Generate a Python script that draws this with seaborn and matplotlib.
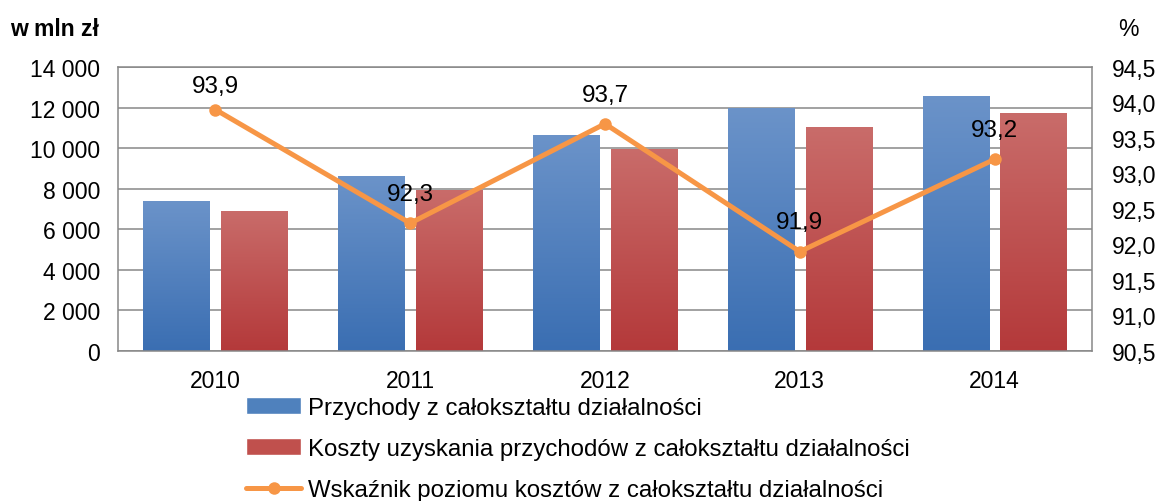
import numpy as np
import pandas as pd
import matplotlib.pyplot as plt
import seaborn as sns
from matplotlib.colors import LinearSegmentedColormap
from matplotlib.patches import Patch
from matplotlib.lines import Line2D
from matplotlib.ticker import FuncFormatter, MultipleLocator, FixedLocator

# dane
lata = ["2010", "2011", "2012", "2013", "2014"]
przychody = [7370, 8610, 10635, 11955, 12565]
koszty = [6925, 7915, 9975, 11030, 11725]
wskaznik = [93.9, 92.3, 93.7, 91.9, 93.2]

seria_przychody = "Przychody z całokształtu działalności"
seria_koszty = "Koszty uzyskania przychodów z całokształtu działalności"
seria_wskaznik = "Wskaźnik poziomu kosztów z całokształtu działalności"

df = pd.DataFrame(
    {
        "Rok": lata + lata,
        "Wartosc": przychody + koszty,
        "Seria": [seria_przychody] * len(lata) + [seria_koszty] * len(lata),
    }
)

sns.set_style("white")
plt.rcParams["font.family"] = ["Liberation Sans", "DejaVu Sans"]
plt.rcParams["text.color"] = "black"
plt.rcParams["xtick.labelcolor"] = "black"
plt.rcParams["ytick.labelcolor"] = "black"

gray = "#878787"
orange = "#f79646"
blue_mid, red_mid = "#4f81bd", "#c0504d"
gradients = [("#6b93c9", "#3a6eb2"), ("#c96c6a", "#b4393a")]
fs = 16.5

fig = plt.figure(figsize=(11.63, 5.02), dpi=100)
ax = fig.add_axes([118 / 1163, 1 - 352 / 502, 974 / 1163, 284 / 502])
ax2 = ax.twinx()

sns.barplot(
    data=df, x="Rok", y="Wartosc", hue="Seria",
    palette=[blue_mid, red_mid], width=0.8, gap=0.15,
    linewidth=0, legend=False, ax=ax,
)

# gradient fill for the bars
for cont, (top, bottom) in zip(ax.containers, gradients):
    cmap = LinearSegmentedColormap.from_list("g", [bottom, top])
    for bar in cont:
        x0, y0 = bar.get_x(), bar.get_y()
        w, h = bar.get_width(), bar.get_height()
        im = ax.imshow(
            np.linspace(0, 1, 256).reshape(-1, 1), cmap=cmap, origin="lower",
            extent=[x0, x0 + w, y0, y0 + h], aspect="auto",
            zorder=bar.get_zorder(),
        )
        im.set_clip_path(bar)
        bar.set_facecolor("none")

ax.set_xlim(-0.5, len(lata) - 0.5)
ax.set_ylim(0, 14000)
ax.yaxis.set_major_locator(MultipleLocator(2000))
ax.yaxis.set_major_formatter(FuncFormatter(lambda v, p: f"{int(v):,}".replace(",", " ")))
ax.set_axisbelow(True)
ax.yaxis.grid(True, color=gray, linewidth=1.1)
ax.xaxis.grid(False)
for s in ax.spines.values():
    s.set_color(gray)
    s.set_linewidth(1.1)
ax.set_xlabel("")
ax.set_ylabel("")
ax.tick_params(axis="y", length=0, pad=13, labelsize=fs)
ax.tick_params(axis="x", which="major", length=0, pad=13, labelsize=fs)
ax.xaxis.set_minor_locator(FixedLocator(np.arange(len(lata) + 1) - 0.5))
ax.tick_params(axis="x", which="minor", direction="in", length=5, color=gray, width=1.1)

# wskaznik na prawej osi
sns.lineplot(
    x=np.arange(len(lata)), y=wskaznik, ax=ax2, color=orange,
    linewidth=3.6, marker="o", markersize=9, markeredgewidth=0,
)
for i, v in enumerate(wskaznik):
    ax2.annotate(
        f"{v:.1f}".replace(".", ","), (i, v), xytext=(0, 21 if i else 17),
        textcoords="offset points", ha="center", va="center", fontsize=17.5,
    )
ax2.set_ylim(90.5, 94.5)
ax2.yaxis.set_major_locator(MultipleLocator(0.5))
ax2.yaxis.set_major_formatter(FuncFormatter(lambda v, p: f"{v:.1f}".replace(".", ",")))
ax2.tick_params(axis="y", length=0, pad=14, labelsize=fs)
ax2.set_ylabel("")
for s in ax2.spines.values():
    s.set_visible(False)
ax2.set_xlim(-0.5, len(lata) - 0.5)

fig.text(10 / 1163, 1 - 30 / 502, "w mln zł", fontsize=16.5, fontweight="bold", va="center")
fig.text(1128 / 1163, 1 - 30 / 502, "%", fontsize=fs, va="center", ha="center")

handles = [
    Patch(facecolor=blue_mid),
    Patch(facecolor=red_mid),
    Line2D([], [], color=orange, linewidth=3.6, marker="o", markersize=9, markeredgewidth=0),
]
fig.legend(
    handles, [seria_przychody, seria_koszty, seria_wskaznik],
    loc="upper left", bbox_to_anchor=(246 / 1163, 1 - 398 / 502),
    frameon=False, fontsize=17.3, handlelength=2.3, handletextpad=0.3,
    labelspacing=0.8, borderaxespad=0, borderpad=0,
)

fig.savefig("out.png", dpi=100)
